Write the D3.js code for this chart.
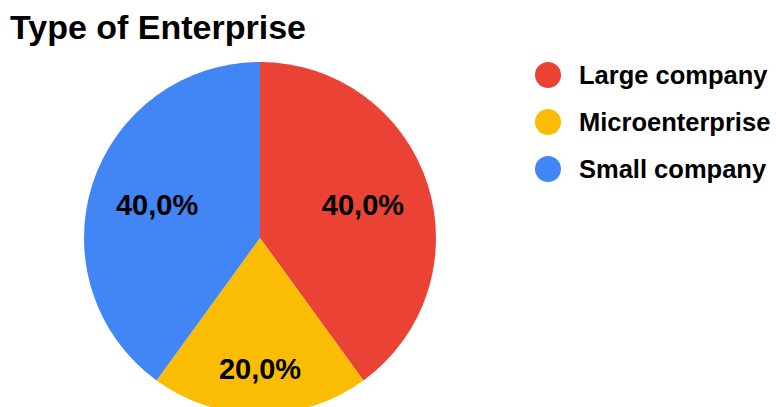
<!DOCTYPE html>
<html>
<head>
<meta charset="utf-8">
<script src="https://cdn.jsdelivr.net/npm/d3@7"></script>
<style>
  html, body { margin: 0; padding: 0; background: #fff; }
  svg { display: block; font-family: "Liberation Sans", Arial, sans-serif; }
</style>
</head>
<body>
<svg id="chart" width="776" height="407"></svg>
<script>
// Enterprise types and their share of responses
const categories = ["Large company", "Microenterprise", "Small company"];
const values = [40, 20, 40];
const colors = ["#EA4335", "#FBBC04", "#4285F4"];
const title = "Type of Enterprise";

const svg = d3.select("#chart");
const width = 776, height = 407;

const cx = 260, cy = 238, R = 176;

// Title
svg.append("text")
  .attr("x", 10)
  .attr("y", 39)
  .attr("font-size", 34)
  .attr("font-weight", "bold")
  .attr("fill", "#000")
  .text(title);

const pie = d3.pie().sort(null).value(d => d.value);
const arcs = pie(categories.map((c, i) => ({ name: c, value: values[i], color: colors[i] })));
const total = d3.sum(values);

const arc = d3.arc().innerRadius(0).outerRadius(R);

const g = svg.append("g").attr("transform", `translate(${cx},${cy})`);

g.selectAll("path")
  .data(arcs)
  .join("path")
  .attr("d", arc)
  .attr("fill", d => d.data.color);

// Labels: narrow slices push their label further toward the rim
const labelRadius = d => (d.endAngle - d.startAngle) < 1.5 ? R * 0.74 : R * 0.615;
const fmt = v => (v / total * 100).toFixed(1).replace(".", ",") + "%";

g.selectAll("text.lbl")
  .data(arcs)
  .join("text")
  .attr("class", "lbl")
  .attr("transform", d => {
    const r = labelRadius(d);
    const c = d3.arc().innerRadius(r).outerRadius(r).centroid(d);
    return `translate(${c[0]},${c[1]})`;
  })
  .attr("dy", "0.36em")
  .attr("text-anchor", "middle")
  .attr("font-size", 29)
  .attr("font-weight", "bold")
  .attr("fill", "#000")
  .text(d => fmt(d.data.value));

// Legend
const legendY = d3.scalePoint().domain(categories).range([75, 169]);
const legend = svg.append("g");
const items = legend.selectAll("g")
  .data(categories)
  .join("g")
  .attr("transform", d => `translate(548,${legendY(d)})`);

items.append("circle")
  .attr("r", 13)
  .attr("fill", (d, i) => colors[i]);

items.append("text")
  .attr("x", 31)
  .attr("dy", "0.36em")
  .attr("font-size", 25.5)
  .attr("font-weight", "bold")
  .attr("fill", "#000")
  .text(d => d);
</script>
</body>
</html>
